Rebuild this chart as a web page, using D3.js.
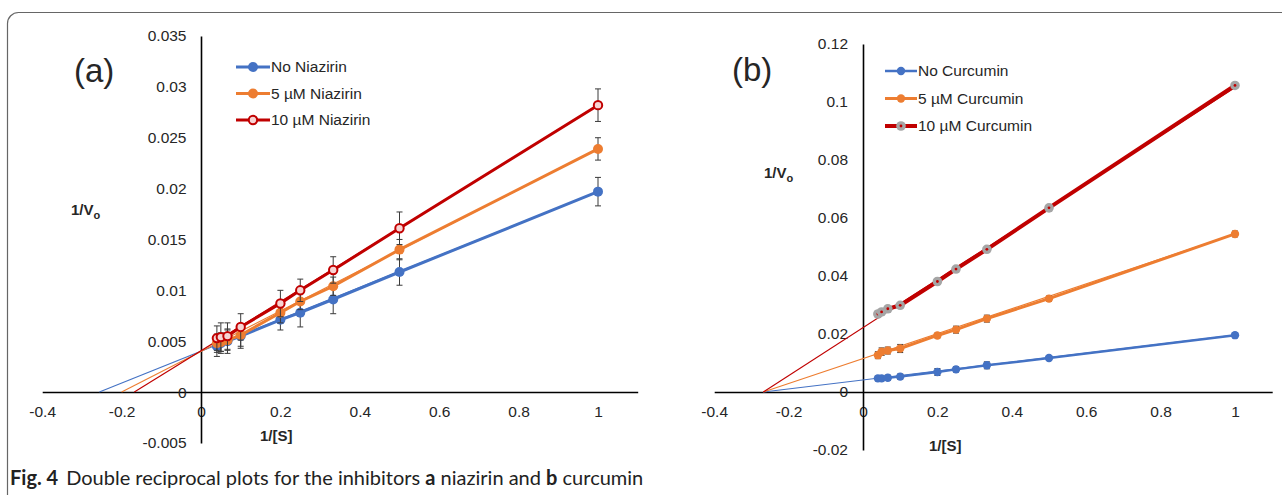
<!DOCTYPE html>
<html>
<head>
<meta charset="utf-8">
<script src="https://cdn.jsdelivr.net/npm/d3@7"></script>
<style>
  body { margin: 0; background: #fff; }
  svg { display: block; }
</style>
</head>
<body>
<div id="chart"></div>
<script>
// x values: 1/[S]
var invS = [0.04, 0.05, 0.0667, 0.1, 0.2, 0.25, 0.333, 0.5, 1];
var xTicks = [-0.4, -0.2, 0, 0.2, 0.4, 0.6, 0.8, 1];

// panel (a) niazirin
var niazNames = ["No Niazirin", "5 \u00b5M Niazirin", "10 \u00b5M Niazirin"];
var niazNone = [0.0045, 0.0048, 0.0050, 0.0055, 0.0071, 0.0078, 0.0091, 0.0118, 0.0197];
var niaz5 = [0.0048, 0.0049, 0.0051, 0.0056, 0.0078, 0.0089, 0.0104, 0.0140, 0.0239];
var niaz10 = [0.0053, 0.0054, 0.0055, 0.0064, 0.0087, 0.0100, 0.0120, 0.0161, 0.0282];
var niazNoneErr = [0.0010, 0.0010, 0.0012, 0.0012, 0.0010, 0.0014, 0.0014, 0.0013, 0.0014];
var niaz5Err = [0.0009, 0.0009, 0.0010, 0.0011, 0.0010, 0.0008, 0.0009, 0.0010, 0.0011];
var niaz10Err = [0.0012, 0.0014, 0.0013, 0.0013, 0.0013, 0.0011, 0.0013, 0.0016, 0.0016];
// trend lines (start on x axis, end at 1/[S] = 1)
var niazTrendNone = [[-0.256, 0], [1, 0.0197]];
var niazTrend5 = [[-0.200, 0], [1, 0.0239]];
var niazTrend10 = [[-0.168, 0], [1, 0.0282]];
var niazYTicks = [-0.005, 0, 0.005, 0.01, 0.015, 0.02, 0.025, 0.03, 0.035];

// panel (b) curcumin
var curcNames = ["No Curcumin", "5 \u00b5M Curcumin", "10 \u00b5M Curcumin"];
var curcNone = [0.0047, 0.0047, 0.0049, 0.0053, 0.0069, 0.0078, 0.0092, 0.0117, 0.0196];
var curc5 = [0.0127, 0.0139, 0.0143, 0.0150, 0.0195, 0.0215, 0.0253, 0.0322, 0.0545];
var curc10 = [0.0269, 0.0276, 0.0287, 0.0299, 0.0381, 0.0424, 0.0492, 0.0635, 0.1057];
var curcNoneErr = [0.0008, 0.0008, 0.0009, 0.0009, 0.0012, 0.0009, 0.0012, 0.0007, 0.0008];
var curc5Err = [0.0012, 0.0013, 0.0012, 0.0014, 0.0008, 0.0012, 0.0012, 0.0009, 0.0010];
var curc10Err = [0.0008, 0.0008, 0.0008, 0.0008, 0.0009, 0.0008, 0.0007, 0.0007, 0.0006];
var curcTrendNone = [[-0.268, 0], [1, 0.0196]];
var curcTrend5 = [[-0.268, 0], [1, 0.0545]];
var curcTrend10 = [[-0.268, 0], [1, 0.1050]];
var curcYTicks = [-0.02, 0, 0.02, 0.04, 0.06, 0.08, 0.1, 0.12];

var colors = ["#4472c4", "#ed7d31", "#c00000"];
var font = "'Liberation Sans', Arial, sans-serif";
var textCol = "#262626";

var width = 1282, height = 495;
var svg = d3.select("#chart").append("svg")
    .attr("width", width)
    .attr("height", height);

// outer frame with rounded corner (runs off right and bottom)
svg.append("rect")
    .attr("x", 7.5).attr("y", 12.5)
    .attr("width", 1300).attr("height", 520)
    .attr("rx", 11)
    .attr("fill", "none")
    .attr("stroke", "#666")
    .attr("stroke-width", 1.2);

function drawPanel(cfg) {
    var x = d3.scaleLinear().domain([-0.4, 1.1]).range(cfg.xRange);
    var y = d3.scaleLinear().domain(cfg.yDomain).range(cfg.yRange);
    var g = svg.append("g");

    // axes
    var xAxis = g.append("g")
        .attr("transform", "translate(0," + y(0) + ")")
        .call(d3.axisBottom(x).tickValues(xTicks).tickSize(0).tickSizeOuter(0)
            .tickPadding(14).tickFormat(function (d) { return String(d); }));
    var yAxis = g.append("g")
        .attr("transform", "translate(" + x(0) + ",0)")
        .call(d3.axisLeft(y).tickValues(cfg.yTicks).tickSize(0).tickSizeOuter(0)
            .tickPadding(cfg.yPad).tickFormat(function (d) { return String(d); }));
    [xAxis, yAxis].forEach(function (a) {
        a.select(".domain").attr("stroke", "#000").attr("stroke-width", 1.6);
        a.selectAll("text").attr("font-family", font).attr("font-size", 15.5).attr("fill", textCol);
    });

    var line = d3.line().x(function (d) { return x(d[0]); }).y(function (d) { return y(d[1]); });

    // thin trend lines under the data
    cfg.trends.forEach(function (t, i) {
        g.append("path").datum(t)
            .attr("d", line)
            .attr("fill", "none")
            .attr("stroke", colors[i])
            .attr("stroke-width", 1.1);
    });

    cfg.series.forEach(function (vals, i) {
        var pts = invS.map(function (s, j) { return [s, vals[j], cfg.errs[i][j]]; });
        g.append("path").datum(pts)
            .attr("d", line)
            .attr("fill", "none")
            .attr("stroke", colors[i])
            .attr("stroke-width", cfg.lineW[i]);

        // error bars
        var eb = g.append("g").attr("stroke", "#3a3a3a").attr("stroke-width", 1);
        pts.forEach(function (p) {
            var cx = x(p[0]), y1 = y(p[1] - p[2]), y2 = y(p[1] + p[2]);
            eb.append("line").attr("x1", cx).attr("x2", cx).attr("y1", y1).attr("y2", y2);
            eb.append("line").attr("x1", cx - 3).attr("x2", cx + 3).attr("y1", y1).attr("y2", y1);
            eb.append("line").attr("x1", cx - 3).attr("x2", cx + 3).attr("y1", y2).attr("y2", y2);
        });

        var mg = g.append("g");
        pts.forEach(function (p) { cfg.marker(mg, x(p[0]), y(p[1]), i); });
    });

    // legend
    cfg.names.forEach(function (n, i) {
        var ly = cfg.legend[1] + i * cfg.legendStep;
        var lg = g.append("g");
        lg.append("line")
            .attr("x1", cfg.legend[0]).attr("x2", cfg.legend[0] + cfg.legendLen)
            .attr("y1", ly).attr("y2", ly)
            .attr("stroke", colors[i]).attr("stroke-width", cfg.lineW[i]);
        cfg.marker(lg, cfg.legend[0] + cfg.legendLen / 2, ly, i);
        lg.append("text")
            .attr("x", cfg.legend[0] + cfg.legendLen + 1).attr("y", ly)
            .attr("dy", "0.35em")
            .attr("font-family", font).attr("font-size", 15.5).attr("fill", textCol)
            .text(n);
    });

    // panel letter
    g.append("text")
        .attr("x", cfg.letter[0]).attr("y", cfg.letter[1])
        .attr("font-family", font).attr("font-size", 33).attr("fill", textCol)
        .text(cfg.letterText);

    // axis titles
    var yt = g.append("text")
        .attr("x", cfg.yTitle[0]).attr("y", cfg.yTitle[1])
        .attr("font-family", font).attr("font-size", 15).attr("font-weight", "bold").attr("fill", textCol);
    yt.append("tspan").text("1/V");
    yt.append("tspan").attr("dy", 4).attr("font-size", 11).text("o");
    g.append("text")
        .attr("x", cfg.xTitle[0]).attr("y", cfg.xTitle[1])
        .attr("font-family", font).attr("font-size", 15).attr("font-weight", "bold").attr("fill", textCol)
        .text("1/[S]");
}

function markerA(sel, cx, cy, i) {
    if (i < 2) {
        sel.append("circle").attr("cx", cx).attr("cy", cy).attr("r", 5).attr("fill", colors[i]);
    } else {
        sel.append("circle").attr("cx", cx).attr("cy", cy).attr("r", 4.2)
            .attr("fill", "#f7d4d4").attr("stroke", colors[2]).attr("stroke-width", 2);
    }
}

function markerB(sel, cx, cy, i) {
    if (i < 2) {
        sel.append("circle").attr("cx", cx).attr("cy", cy).attr("r", 4.2).attr("fill", colors[i]);
    } else {
        sel.append("circle").attr("cx", cx).attr("cy", cy).attr("r", 4.8).attr("fill", "#a5a5a5");
        sel.append("circle").attr("cx", cx).attr("cy", cy).attr("r", 1.4).attr("fill", colors[2]);
    }
}

drawPanel({
    xRange: [201 - 0.4 * 397, 201 + 1.1 * 397],
    yDomain: [-0.005, 0.035], yRange: [442.9, 36],
    yTicks: niazYTicks, yPad: 14.5,
    series: [niazNone, niaz5, niaz10],
    errs: [niazNoneErr, niaz5Err, niaz10Err],
    trends: [niazTrendNone, niazTrend5, niazTrend10],
    lineW: [3, 3, 3],
    marker: markerA,
    names: niazNames,
    legend: [236, 67], legendLen: 34, legendStep: 26.5,
    letter: [74, 82], letterText: "(a)",
    yTitle: [71, 215], xTitle: [260, 441]
});

drawPanel({
    xRange: [863 - 0.4 * 372, 863 + 1.1 * 372],
    yDomain: [-0.02, 0.12], yRange: [450, 44],
    yTicks: curcYTicks, yPad: 15,
    series: [curcNone, curc5, curc10],
    errs: [curcNoneErr, curc5Err, curc10Err],
    trends: [curcTrendNone, curcTrend5, curcTrend10],
    lineW: [2.5, 3, 4],
    marker: markerB,
    names: curcNames,
    legend: [885, 71], legendLen: 32, legendStep: 27.5,
    letter: [732, 81], letterText: "(b)",
    yTitle: [764, 178], xTitle: [929, 451]
});

// caption
var cap = svg.append("text")
    .attr("x", 10).attr("y", 485)
    .attr("font-family", "Lato, 'Open Sans', sans-serif").attr("font-size", 20).attr("fill", "#222");
cap.append("tspan").attr("font-weight", "bold").text("Fig. 4");
cap.append("tspan").attr("dx", 8).text("Double reciprocal plots for the inhibitors ");
cap.append("tspan").attr("font-weight", "bold").text("a");
cap.append("tspan").text(" niazirin and ");
cap.append("tspan").attr("font-weight", "bold").text("b");
cap.append("tspan").text(" curcumin");
</script>
</body>
</html>
